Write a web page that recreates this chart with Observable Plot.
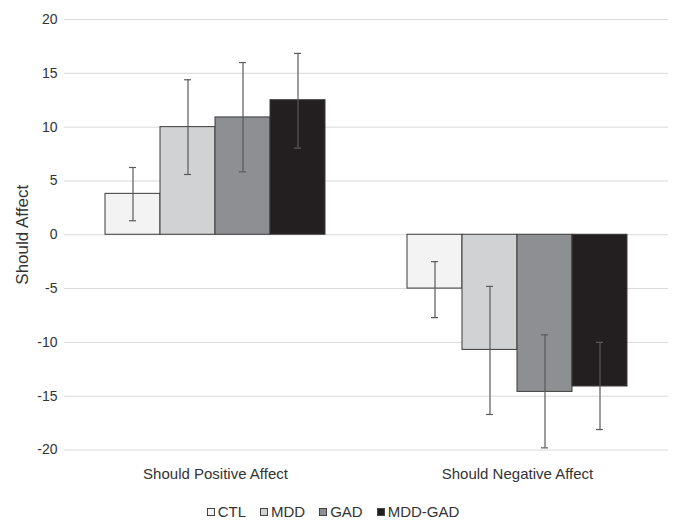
<!DOCTYPE html>
<html>
<head>
<meta charset="utf-8">
<script src="https://cdn.jsdelivr.net/npm/d3@7"></script>
<script src="https://cdn.jsdelivr.net/npm/@observablehq/plot@0.6"></script>
<style>
  body { margin: 0; background: #fff; font-family: "Liberation Sans", Arial, sans-serif; }
  #legend { display: flex; justify-content: center; gap: 14px; margin-top: 14px; font-size: 15px; color: #333; line-height: 16px; padding-right: 10px; }
  #legend span.sw { display: inline-block; width: 6px; height: 6px; border: 1px solid #444; margin-right: 3px; vertical-align: 1px; }
</style>
</head>
<body>
<div id="chart"></div>
<div id="legend"></div>
<script>
const groups = ["Should Positive Affect", "Should Negative Affect"];
const series = ["CTL", "MDD", "GAD", "MDD-GAD"];
const colors = ["#f3f3f3", "#d1d2d4", "#8e8f92", "#231f20"];
const positive = [3.8, 10.0, 10.9, 12.5];
const positiveLow = [1.3, 5.6, 5.85, 8.05];
const positiveHigh = [6.25, 14.4, 16.0, 16.85];
const negative = [-5.0, -10.7, -14.6, -14.1];
const negativeLow = [-7.7, -16.7, -19.8, -18.1];
const negativeHigh = [-2.5, -4.8, -9.3, -10.0];
const yTicks = [-20, -15, -10, -5, 0, 5, 10, 15, 20];

const data = [];
series.forEach((s, i) => {
  data.push({group: groups[0], series: s, value: positive[i], lo: positiveLow[i], hi: positiveHigh[i]});
  data.push({group: groups[1], series: s, value: negative[i], lo: negativeLow[i], hi: negativeHigh[i]});
});

const chart = Plot.plot({
  width: 676,
  height: 490,
  marginTop: 19,
  marginBottom: 40.5,
  marginLeft: 63,
  marginRight: 8,
  style: {fontFamily: "'Liberation Sans', Arial, sans-serif", fontSize: "14px", color: "#333"},
  fx: {domain: groups, padding: 0, label: null},
  x: {domain: series, paddingInner: 0, paddingOuter: 0.737, axis: null},
  y: {domain: [-20, 20]},
  color: {domain: series, range: colors},
  marks: [
    Plot.gridY(yTicks, {stroke: "#d9d9d9", strokeOpacity: 1, strokeWidth: 1}),
    Plot.barY(data, {fx: "group", x: "series", y: "value", fill: "series", stroke: "#3a3a3a", strokeWidth: 1}),
    Plot.ruleX(data, {fx: "group", x: "series", y1: "lo", y2: "hi", stroke: "#5a5a5a", strokeWidth: 1.2}),
    Plot.tickY(data, {fx: "group", x: "series", y: "lo", stroke: "#5a5a5a", strokeWidth: 1.2, insetLeft: 24, insetRight: 24}),
    Plot.tickY(data, {fx: "group", x: "series", y: "hi", stroke: "#5a5a5a", strokeWidth: 1.2, insetLeft: 24, insetRight: 24}),
    Plot.axisY({ticks: yTicks, tickFormat: d => String(d), tickSize: 0, tickPadding: 7, fontSize: 14, label: null}),
    Plot.axisY({ticks: [], tickSize: 0, fontSize: 17, label: "Should Affect", labelAnchor: "center", labelOffset: 49, labelArrow: "none"}),
    Plot.axisFx({anchor: "bottom", tickSize: 0, tickPadding: 18, fontSize: 15, label: null})
  ]
});
document.getElementById("chart").appendChild(chart);

const legend = document.getElementById("legend");
series.forEach((s, i) => {
  const item = document.createElement("span");
  const sw = document.createElement("span");
  sw.className = "sw";
  sw.style.background = colors[i];
  item.appendChild(sw);
  item.appendChild(document.createTextNode(s));
  legend.appendChild(item);
});
</script>
</body>
</html>
